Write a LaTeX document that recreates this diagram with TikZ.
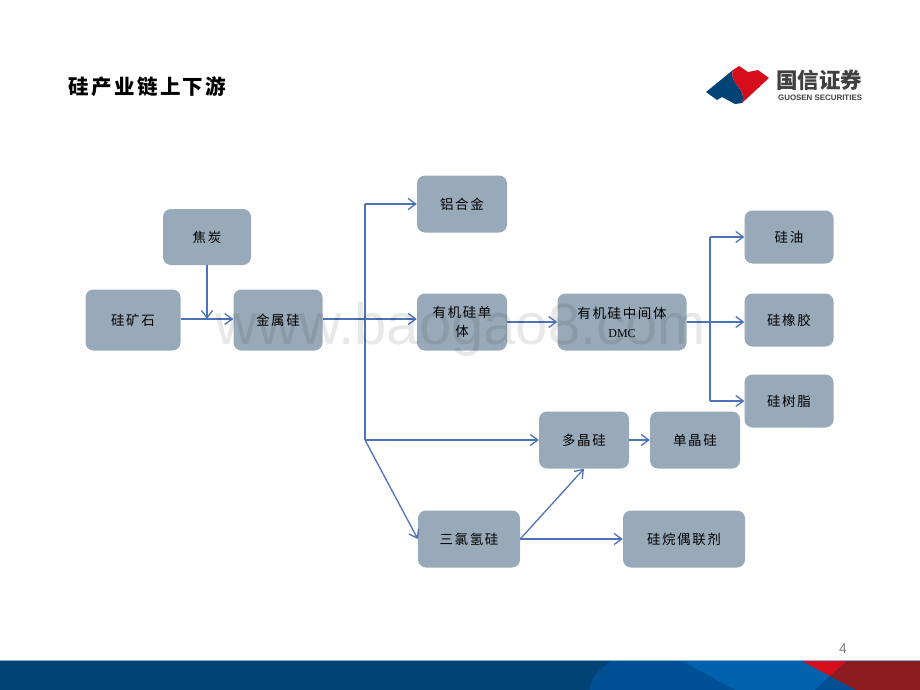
\documentclass[tikz,border=0pt]{standalone}
\usepackage{fontspec}
\setmainfont{Noto Sans CJK SC}
\newfontfamily\latinfont{Liberation Sans}
\newfontfamily\dmcfont{Liberation Serif}
\newfontfamily\spacedfont[LetterSpace=12]{Noto Sans CJK SC}
\usetikzlibrary{arrows.meta}
\definecolor{boxfill}{RGB}{152,170,185}
\definecolor{arrowblue}{RGB}{76,114,186}
\definecolor{barnavy}{RGB}{2,67,118}
\definecolor{barblue}{RGB}{0,98,172}
\definecolor{bardark}{RGB}{1,80,148}
\definecolor{barred}{RGB}{214,14,28}
\definecolor{barmaroon}{RGB}{140,28,32}
\definecolor{barline}{RGB}{140,180,210}
\tikzset{
  chainbox/.style={draw=none, fill=boxfill, rounded corners=8pt, align=center, font=\spacedfont\fontsize{13.5}{19}\selectfont, text=black, inner sep=0pt},
  flow/.style={draw=arrowblue, line width=1.3pt, -{Straight Barb[length=7.5pt,width=11pt]}},
  flowline/.style={draw=arrowblue, line width=1.3pt}
}
\begin{document}
\begin{tikzpicture}[x=1pt, y=-1pt]
\useasboundingbox (0, 0) rectangle (920, 690);
\fill[white] (0, 0) rectangle (920, 690);
%Footer
\fill[barnavy] (0, 660) rectangle (920, 690);
\fill[bardark] (612, 660) .. controls (600, 670) and (590, 675) .. (590, 690) -- (735, 690) -- (680, 660) -- cycle;
\fill[barblue] (680, 660) -- (735, 690) -- (815, 690) -- (830, 676) -- (848, 660) -- cycle;
\fill[bardark] (815, 690) -- (830, 676) -- (856, 690) -- cycle;
\fill[barred] (800, 660) -- (848, 660) -- (830, 676) -- cycle;
\fill[barmaroon] (848, 660) -- (830, 676) -- (856, 690) -- (920, 690) -- (920, 660) -- cycle;
\draw[barline, line width=0.7pt] (0, 660.3) -- (920, 660.3);
\node[text=gray, font=\latinfont\fontsize{14}{14}\selectfont] (pagenum) at (843, 649) {4};
%Logo
\fill[barnavy] (706, 92) -- (733, 70) .. controls (728, 84) and (748, 88) .. (742, 103) -- (735, 104) -- (722, 97) -- (717, 100) -- cycle;
\fill[barred] (733, 70) -- (739, 66) -- (748, 72) -- (758, 70) -- (769, 78) -- (742, 103) .. controls (748, 88) and (728, 84) .. (733, 70) -- cycle;
\node[anchor=west, inner sep=0pt, text=black!75, font=\bfseries\fontsize{21.5}{22}\selectfont] (logocn) at (776, 80) {国信证券};
\node[anchor=west, inner sep=0pt, text=black!75, font=\latinfont\bfseries\fontsize{7.9}{8}\selectfont] (logoen) at (778, 98) {GUOSEN SECURITIES};
%Title
\node[anchor=west, inner sep=0pt, font=\spacedfont\bfseries\fontsize{20.5}{21}\selectfont] (title) at (68, 87) {硅产业链上下游};
%Boxes
\node[chainbox, minimum width=88pt, minimum height=56pt] (coke) at (207, 237) {焦炭};
\node[chainbox, minimum width=95pt, minimum height=61pt] (ore) at (133, 320) {硅矿石};
\node[chainbox, minimum width=89pt, minimum height=61pt] (metal) at (278, 320) {金属硅};
\node[chainbox, minimum width=90pt, minimum height=57pt] (alloy) at (462, 204) {铝合金};
\node[chainbox, minimum width=90pt, minimum height=57pt] (monomer) at (462, 322) {有机硅单\\体};
\node[chainbox, minimum width=129pt, minimum height=57pt] (inter) at (622, 322) {有机硅中间体\\{\dmcfont\fontsize{12}{19}\selectfont DMC}};
\node[chainbox, minimum width=89pt, minimum height=53pt] (oil) at (789, 237) {硅油};
\node[chainbox, minimum width=89pt, minimum height=53pt] (rubber) at (789, 320) {硅橡胶};
\node[chainbox, minimum width=89pt, minimum height=53pt] (resin) at (789, 401) {硅树脂};
\node[chainbox, minimum width=90pt, minimum height=57pt] (poly) at (584, 440) {多晶硅};
\node[chainbox, minimum width=90pt, minimum height=57pt] (mono) at (695, 440) {单晶硅};
\node[chainbox, minimum width=102pt, minimum height=57pt] (tcs) at (469, 539) {三氯氢硅};
\node[chainbox, minimum width=122pt, minimum height=57pt] (silane) at (684, 539) {硅烷偶联剂};
%Junctions
\coordinate (orejoin) at (207, 319);
\coordinate (split) at (365, 319);
\coordinate (splittop) at (365, 204);
\coordinate (splitlow) at (365, 440);
\coordinate (branch) at (710, 322);
\coordinate (branchtop) at (710, 237);
\coordinate (branchlow) at (710, 401);
%Connectors
\draw[flow] (ore.east |- orejoin) -- (metal.west |- orejoin);
\draw[flow] (coke.south) -- (orejoin);
\draw[flowline] (metal.east |- split) -- (split);
\draw[flow] (split) -- (monomer.west |- split);
\draw[flow] (splittop) -- (alloy.west);
\draw[flowline] (splittop) -- (splitlow);
\draw[flow] (splitlow) -- (poly.west);
\draw[flow] (splitlow) -- (tcs.west);
\draw[flow] (monomer.east) -- (inter.west);
\draw[flowline] (inter.east) -- (branch);
\draw[flowline] (branchtop) -- (branchlow);
\draw[flow] (branchtop) -- (oil.west);
\draw[flow] (branch) -- (rubber.west |- branch);
\draw[flow] (branchlow) -- (resin.west);
\draw[flow] (poly.east) -- (mono.west);
\draw[flow] (tcs.east) -- (poly.south);
\draw[flow] (tcs.east) -- (silane.west);
%Watermark
\node[text=black, text opacity=0.09, font=\latinfont\fontsize{58}{58}\selectfont, inner sep=0pt] (watermark) at (461, 330) {www.baogao8.com};
\end{tikzpicture}
\end{document}
